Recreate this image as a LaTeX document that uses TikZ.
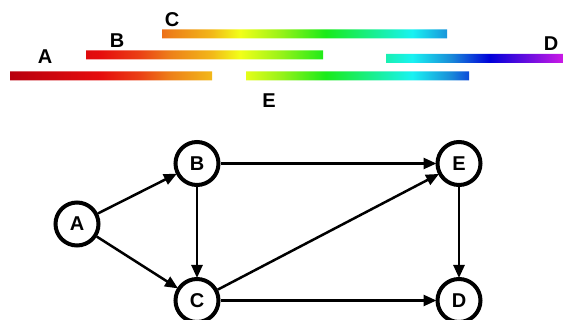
\documentclass[tikz,border=0pt]{standalone}
\usepackage{fontspec}
\setmainfont{Liberation Sans}
\usetikzlibrary{arrows.meta}
\pgfdeclarehorizontalshading{rainbow}{100bp}{%
color(0bp)=(rgb,1:red,0.72;green,0;blue,0.05);
color(25.9bp)=(rgb,1:red,0.72;green,0;blue,0.05);
color(33.9bp)=(rgb,1:red,0.9;green,0.05;blue,0.05);
color(37.4bp)=(rgb,1:red,0.92;green,0.25;blue,0.08);
color(40.1bp)=(rgb,1:red,0.93;green,0.5;blue,0.1);
color(43.8bp)=(rgb,1:red,0.95;green,0.72;blue,0.1);
color(46.3bp)=(rgb,1:red,0.95;green,1;blue,0.1);
color(49.9bp)=(rgb,1:red,0.6;green,0.95;blue,0.1);
color(53.9bp)=(rgb,1:red,0.1;green,0.92;blue,0.1);
color(61.6bp)=(rgb,1:red,0.1;green,0.95;blue,0.95);
color(65bp)=(rgb,1:red,0.1;green,0.55;blue,0.85);
color(68.5bp)=(rgb,1:red,0;green,0;blue,0.85);
color(75bp)=(rgb,1:red,0.8;green,0.1;blue,0.9);
color(100bp)=(rgb,1:red,0.8;green,0.1;blue,0.9)}
\tikzset{
  lbl/.style={font=\bfseries\fontsize{20}{20}\selectfont, inner sep=0pt},
  vert/.style={circle, draw, line width=4pt, minimum size=43pt, inner sep=0pt, fill=white,
    font=\bfseries\fontsize{20}{20}\selectfont},
  edge/.style={line width=2.5pt, -{Triangle[length=13pt,width=11pt]}, shorten >=-1pt}
}
\begin{document}
\begin{tikzpicture}[x=1pt,y=-1pt]
\useasboundingbox (0,0) rectangle (563,320);
% interval bars
\begin{scope}
\clip (10,71.5) rectangle (212,80.5)
      (86,50.5) rectangle (323,59.5)
      (162,29.5) rectangle (447,38.5)
      (386,54) rectangle (563,63)
      (246,71.5) rectangle (469,80.5);
\shade[shading=rainbow] (0,0) rectangle (563,100);
\end{scope}
\node[lbl] (la) at (45,57) {A};
\node[lbl] (lb) at (117,41) {B};
\node[lbl] (lc) at (172,20) {C};
\node[lbl] (ld) at (551,44) {D};
\node[lbl] (le) at (269,101) {E};
% graph
\node[vert] (A) at (77,224) {A};
\node[vert] (B) at (197,163.5) {B};
\node[vert] (C) at (197,300.5) {C};
\node[vert] (E) at (459,163.5) {E};
\node[vert] (D) at (459,300.5) {D};
\draw[edge] (A) -- (B);
\draw[edge] (A) -- (C);
\draw[edge] (B) -- (C);
\draw[edge] (B) -- (E);
\draw[edge] (C) -- (E);
\draw[edge] (C) -- (D);
\draw[edge] (E) -- (D);
\end{tikzpicture}
\end{document}
